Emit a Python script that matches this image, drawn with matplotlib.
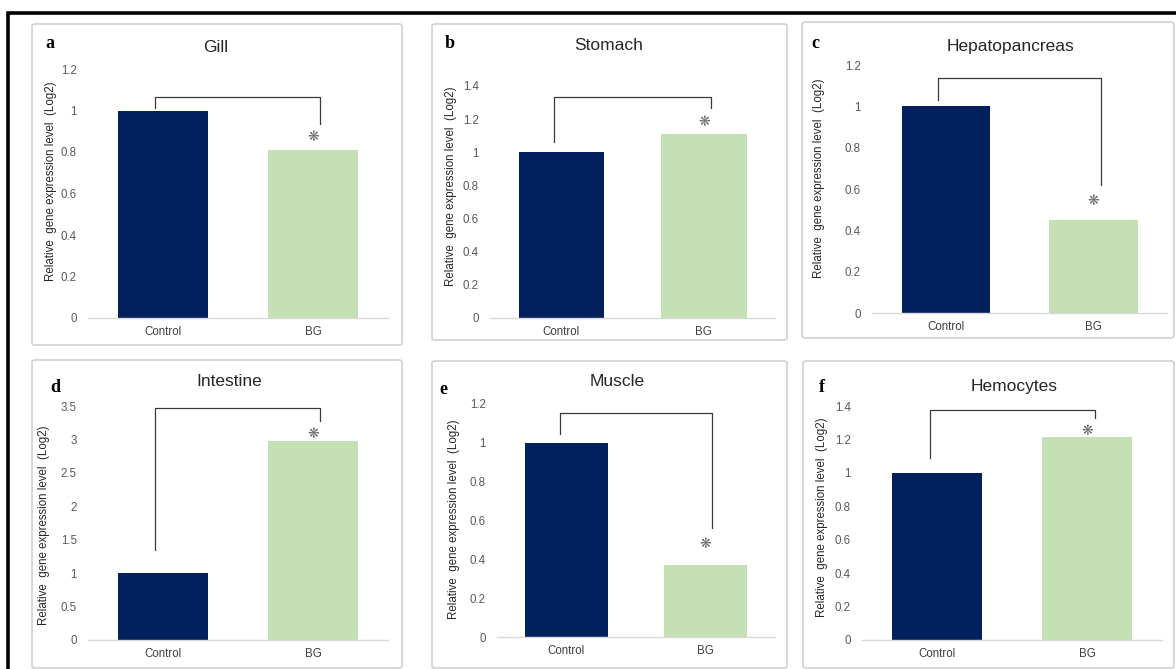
import matplotlib
matplotlib.use("Agg")
import matplotlib.pyplot as plt
from matplotlib.patches import FancyBboxPatch, Rectangle
import numpy as np

# ---------------- data ----------------
tissues = ["Gill", "Stomach", "Hepatopancreas", "Intestine", "Muscle", "Hemocytes"]
letters = ["a", "b", "c", "d", "e", "f"]
groups = ["Control", "BG"]
control_vals = [1.0, 1.0, 1.0, 1.0, 1.0, 1.0]
bg_vals = [0.81, 1.11, 0.45, 2.98, 0.37, 1.215]
y_max = [1.2, 1.4, 1.2, 3.5, 1.2, 1.4]
y_step = [0.2, 0.2, 0.2, 0.5, 0.2, 0.2]
bracket_top = [1.065, 1.334, 1.137, 3.47, 1.153, 1.376]
bracket_left_end = [1.01, 1.06, 1.03, 1.35, 1.045, 1.09]
bracket_right_end = [0.935, 1.27, 0.62, 3.28, 0.56, 1.33]
star_y = [0.87, 1.18, 0.54, 3.08, 0.48, 1.25]

# ---------------- layout (pixels) ----------------
W, H = 1176, 669
# panel boxes: x0, y0, x1, y1 (top-left origin)
panel_boxes = [(32, 24, 402, 345), (432, 24, 787, 340), (802, 22, 1174, 338),
               (32, 360, 402, 668), (432, 361, 787, 668), (803, 361, 1174, 668)]
# axes: x0, x1, ytop, ybottom
axes_px = [(88, 388, 69, 318), (490, 775, 86, 318), (872, 1167, 65, 313),
           (88, 388, 406, 640), (497, 775, 404, 637), (862, 1162, 406, 640)]
title_px = [(216, 47), (609, 45), (1011, 47), (229, 382), (617, 382), (1014, 387)]
letter_px = [(50, 44), (450, 43), (815, 44), (55, 387), (443, 389), (822, 387)]
ylabel_x = [57, 457, 825, 50, 460, 828]
ylabel_y = [0.55, 0.57, 0.545, 0.49, 0.506, 0.526]

navy = "#02215c"
green = "#c5e0b4"
axis_gray = "#d9d9d9"
text_gray = "#595959"

fig = plt.figure(figsize=(W / 100, H / 100), dpi=100)
fig.patch.set_facecolor("white")

def fx(x):
    return x / W

def fy(y):
    return 1 - y / H

# outer black frame (left + top visible)
fig.patches.append(Rectangle((fx(8), fy(H + 20)), fx(W + 30) - fx(8), fy(13) - fy(H + 20),
                             transform=fig.transFigure, fill=False, edgecolor="black",
                             linewidth=2.6, zorder=-3))

for i, (x0, y0, x1, y1) in enumerate(panel_boxes):
    fig.patches.append(FancyBboxPatch((fx(x0), fy(y1)), fx(x1) - fx(x0), fy(y0) - fy(y1),
                                      boxstyle="round,pad=0,rounding_size=0.003",
                                      transform=fig.transFigure, facecolor="white",
                                      edgecolor="#d4d4d4", linewidth=1.3, zorder=-2))

for i in range(6):
    ax0, ax1, at, ab = axes_px[i]
    ax = fig.add_axes([fx(ax0), fy(ab), fx(ax1) - fx(ax0), fy(at) - fy(ab)])
    ax.patch.set_visible(False)
    xs = np.arange(len(groups))
    vals = [control_vals[i], bg_vals[i]]
    ax.bar(xs, vals, width=0.6, color=[navy, green], zorder=2)
    ax.set_xlim(-0.5, 1.5)
    ax.set_ylim(0, y_max[i])
    ticks = np.arange(0, y_max[i] + 1e-9, y_step[i])
    ax.set_yticks(ticks)
    ax.set_yticklabels([f"{t:g}" for t in ticks], fontsize=8.3, color=text_gray,
                       fontfamily="Liberation Sans")
    ax.set_xticks(xs)
    ax.set_xticklabels(groups, fontsize=8.3, color="#404040", fontfamily="Liberation Sans")
    ax.tick_params(axis="both", length=0)
    ax.tick_params(axis="y", pad=8)
    ax.tick_params(axis="x", pad=6)
    for s in ["left", "right", "top"]:
        ax.spines[s].set_visible(False)
    ax.spines["bottom"].set_color(axis_gray)
    ax.spines["bottom"].set_linewidth(1.0)

    # significance bracket
    lx, rx = -0.05, 1.05
    ax.plot([lx, lx, rx, rx],
            [bracket_left_end[i], bracket_top[i], bracket_top[i], bracket_right_end[i]],
            color="#3a3a3a", linewidth=0.9, zorder=3, clip_on=False)
    ax.text(1.0, star_y[i], "\u274b", ha="center", va="center", fontsize=10,
            color="#6a6a6a", fontfamily="DejaVu Sans", zorder=4)

    # y label
    ax.set_ylabel("Relative  gene expression level  (Log2)", fontsize=8.3,
                  color="#262626", fontfamily="Liberation Sans")
    lab_x_axes = (ylabel_x[i] - ax0) / (ax1 - ax0)
    ax.yaxis.set_label_coords(lab_x_axes, ylabel_y[i])

    tx, ty = title_px[i]
    fig.text(fx(tx), fy(ty), tissues[i], ha="center", va="center", fontsize=12.5,
             color="#262626", fontfamily="Liberation Sans")
    lx_, ly_ = letter_px[i]
    fig.text(fx(lx_), fy(ly_), letters[i], ha="center", va="center", fontsize=13,
             fontweight="bold", fontfamily="Liberation Serif", color="black")

fig.savefig("out.png", dpi=100, facecolor="white")
